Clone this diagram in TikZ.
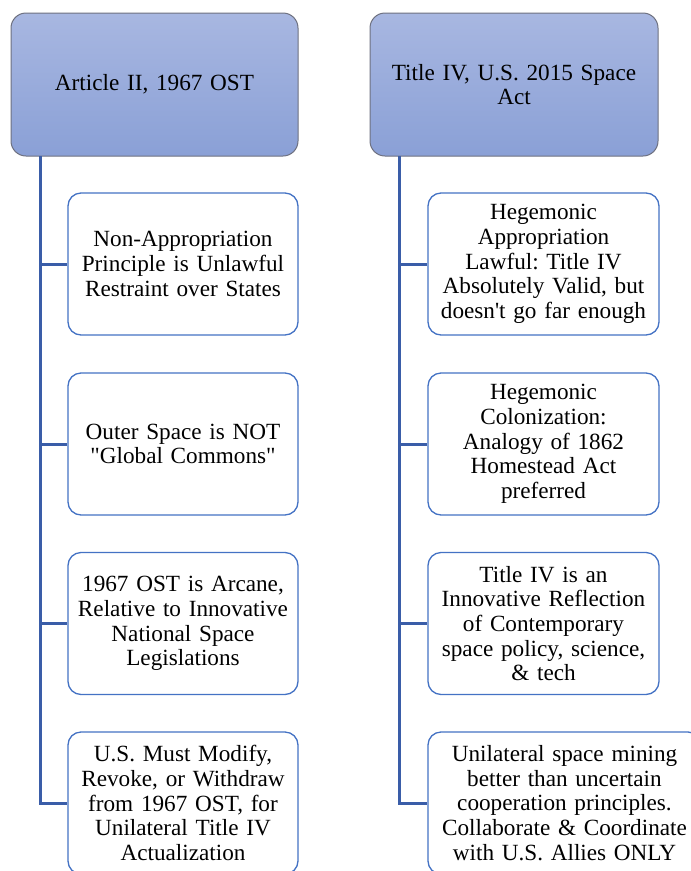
\documentclass[tikz,border=0pt]{standalone}
\usepackage{fontspec}
\setmainfont{Liberation Serif}
\frenchspacing
\definecolor{headtop}{HTML}{A8B7E1}
\definecolor{headbot}{HTML}{8AA0D6}
\definecolor{headline}{HTML}{6E7180}
\definecolor{boxline}{HTML}{4472C4}
\definecolor{connline}{HTML}{3A5DA8}
\newcommand{\straightquotes}[1]{{\addfontfeatures{Ligatures=TeXOff}"#1"}}
\tikzset{
  header/.style={draw=headline, line width=1pt, rounded corners=15pt,
    top color=headtop, bottom color=headbot, minimum height=143pt,
    align=center, text width=#1-16pt, minimum width=#1,
    font=\fontsize{23.2}{24.7}\selectfont},
  item/.style={draw=boxline, line width=1.3pt, fill=white, rounded corners=13pt,
    minimum height=142pt, minimum width=#1, text width=#1-4pt, align=center,
    inner sep=0pt, font=\fontsize{23.2}{24.7}\selectfont},
  conn/.style={draw=connline, line width=3pt}
}
\begin{document}
\begin{tikzpicture}[x=1pt, y=-1pt]
\useasboundingbox (0,0) rectangle (691,871);
\clip (0,0) rectangle (691,871);
\fill[white] (0,0) rectangle (691,871);

% left column
\node[header=287pt] (h1) at (154.5,84.5) {Article II, 1967 OST};
\coordinate (t1) at (40,156);
\node[item=230pt] (a1) at (183,264) {Non-Appropriation\\Principle is Unlawful\\Restraint over States};
\node[item=230pt] (a2) at (183,444) {Outer Space is NOT\\\straightquotes{Global Commons}};
\node[item=230pt] (a3) at (183,623.5) {1967 OST is Arcane,\\Relative to Innovative\\National Space\\Legislations};
\node[item=230pt] (a4) at (183,803) {U.S. Must Modify,\\Revoke, or Withdraw\\from 1967 OST, for\\Unilateral Title IV\\Actualization};

% right column
\node[header=288pt] (h2) at (514,84.5) {Title IV, U.S. 2015 Space\\Act};
\coordinate (t2) at (399,156);
\node[item=231pt] (b1) at (543.5,264) {Hegemonic\\Appropriation\\Lawful: Title IV\\Absolutely Valid, but\\doesn\textquotesingle t go far enough};
\node[item=231pt] (b2) at (543.5,444) {Hegemonic\\Colonization:\\Analogy of 1862\\Homestead Act\\preferred};
\node[item=231pt] (b3) at (543.5,623.5) {Title IV is an\\Innovative Reflection\\of Contemporary\\space policy, science,\\\& tech};
\node[item=273pt] (b4) at (564.5,803) {Unilateral space mining\\better than uncertain\\cooperation principles.\\Collaborate \& Coordinate\\with U.S. Allies ONLY};

% connectors
\foreach \c in {a1,a2,a3,a4} \draw[conn] (t1) |- (\c.west);
\foreach \c in {b1,b2,b3,b4} \draw[conn] (t2) |- (\c.west);
\end{tikzpicture}
\end{document}
